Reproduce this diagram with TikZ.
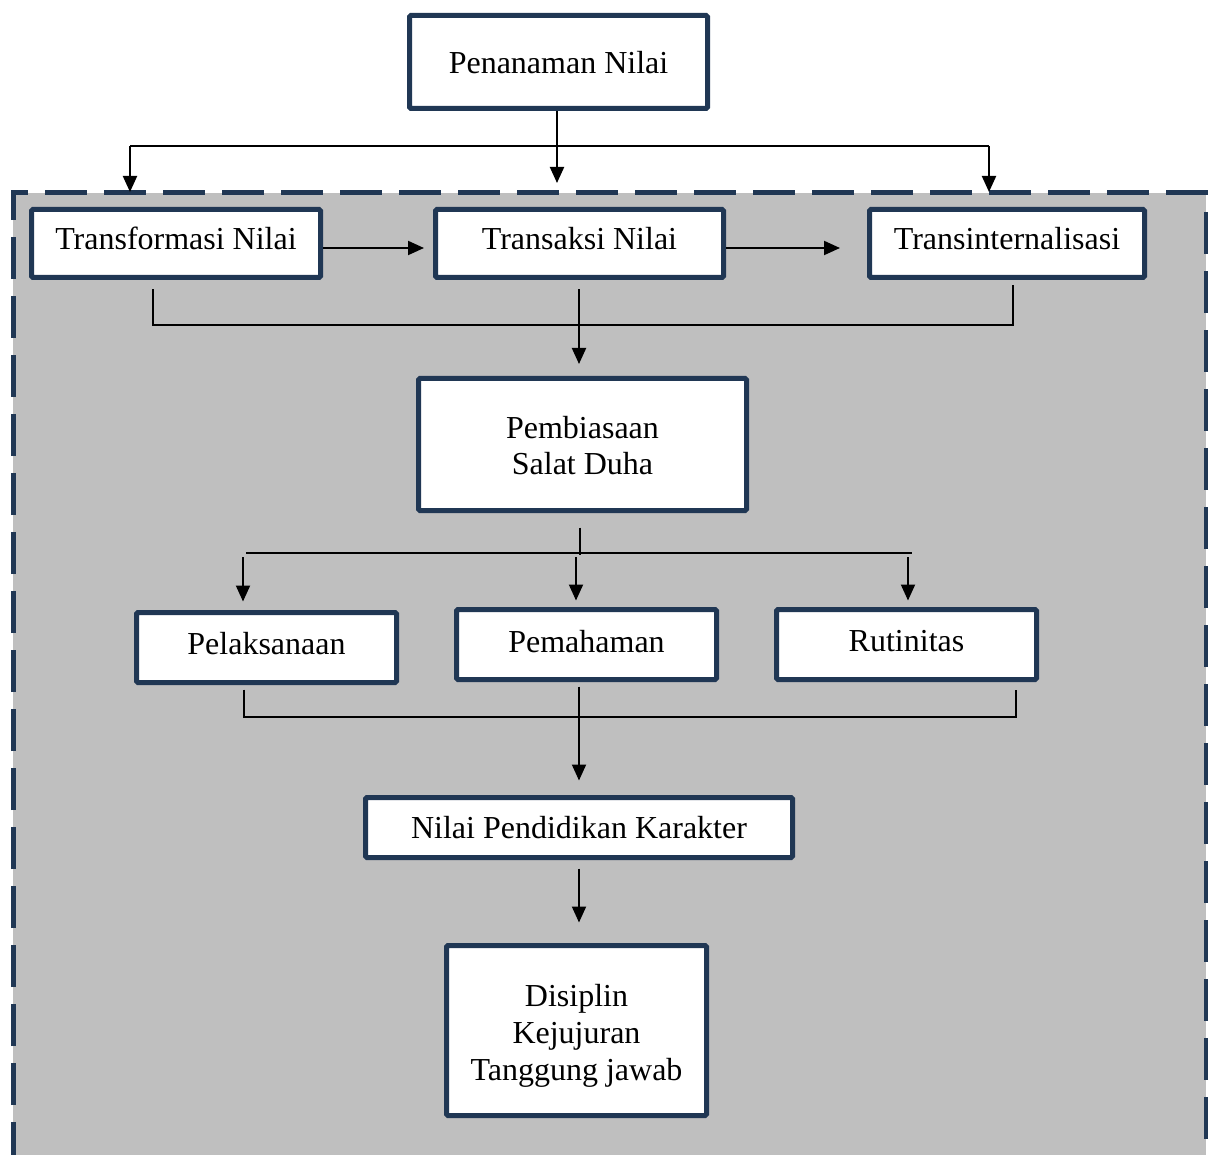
\documentclass[tikz,border=0pt]{standalone}
\usepackage{fontspec}
\setmainfont{Liberation Serif}
\usetikzlibrary{arrows.meta}
\definecolor{navy}{RGB}{32,55,84}
\definecolor{bggray}{RGB}{191,191,191}
\newcommand{\txtshift}[2]{\raisebox{#1}[\height][\depth]{#2}}
\begin{document}
\begin{tikzpicture}[x=1pt,y=-1pt,
  box/.style={draw=navy, line width=5pt, fill=white, rounded corners=1.5pt, inner sep=0pt,
    align=center, font=\fontsize{32}{36.5}\selectfont},
  conn/.style={draw=black, line width=2pt},
  arr/.style={conn, -{Triangle[length=16pt,width=14pt]}},
  frame/.style={draw=navy, line width=5pt, dash pattern=on 42pt off 17pt, dash phase=4pt}
]
\useasboundingbox (0,0) rectangle (1208,1155);
% background panel
\fill[bggray] (13,193) rectangle (1206,1160);
\draw[frame] (13,1160) -- (13,193) -- (1206,193) -- (1206,1160);

% nodes
\node[box, minimum width=298pt, minimum height=93pt] (pen) at (558.5,62) {\txtshift{-1pt}{Penanaman Nilai}};
\node[box, minimum width=289pt, minimum height=68pt] (tf) at (176,243.5) {\txtshift{5pt}{Transformasi Nilai}};
\node[box, minimum width=288pt, minimum height=68pt] (ts) at (579.5,243.5) {\txtshift{5pt}{Transaksi Nilai}};
\node[box, minimum width=275pt, minimum height=68pt] (ti) at (1007,243.5) {\txtshift{5pt}{Transinternalisasi}};
\node[box, minimum width=328pt, minimum height=132pt] (pb) at (582.5,444.5) {\txtshift{-4.5pt}{\begin{tabular}{@{}c@{}}Pembiasaan\\Salat Duha\end{tabular}}};
\node[box, minimum width=260pt, minimum height=70pt] (pl) at (266.5,647.5) {\txtshift{3.5pt}{Pelaksanaan}};
\node[box, minimum width=260pt, minimum height=70pt] (pm) at (586.5,644.5) {\txtshift{3pt}{Pemahaman}};
\node[box, minimum width=260pt, minimum height=70pt] (rt) at (906.5,644.5) {\txtshift{3pt}{Rutinitas}};
\node[box, minimum width=427pt, minimum height=60pt] (nk) at (579,827.5) {Nilai Pendidikan Karakter};
\node[box, minimum width=260pt, minimum height=170pt, font=\fontsize{32}{37}\selectfont] (ds) at (576.5,1030.5) {\txtshift{-6pt}{\begin{tabular}{@{}c@{}}Disiplin\\Kejujuran\\Tanggung jawab\end{tabular}}};

% coordinates
\coordinate (tpL) at (130,146);
\coordinate (tpR) at (989,146);
\coordinate (aL) at (130,192);
\coordinate (aR) at (989,192);
\coordinate (aM) at (557,183);
\coordinate (m1L) at (153,325);
\coordinate (m1R) at (1013,325);
\coordinate (pbj) at (580,555);
\coordinate (h2L) at (246,553);
\coordinate (h2R) at (912,553);
\coordinate (a2L) at (243,557);
\coordinate (a2M) at (576,557);
\coordinate (a2R) at (908,557);
\coordinate (m3L) at (244,717);
\coordinate (m3R) at (1016,717);

% top distribution
\draw[conn] (tpL) -- (tpR);
\draw[arr] (tpL) -- (aL);
\draw[arr] (tpR) -- (aR);
\draw[arr] ([xshift=-1.5pt]pen.south) -- (aM);

% row 1 sequence
\draw[arr, shorten >=9pt] ([yshift=-4.5pt]tf.east) -- ([yshift=-4.5pt]ts.west);
\draw[arr, shorten >=27pt] ([yshift=-4.5pt]ts.east) -- ([yshift=-4.5pt]ti.west);

% merge 1
\draw[conn] ([xshift=-23pt,yshift=-9.5pt]tf.south) -- (m1L) -- (m1R) -- ([xshift=6pt,yshift=-5.5pt]ti.south);
\draw[arr, shorten >=12pt] ([xshift=-0.5pt,yshift=-9.5pt]ts.south) -- ([xshift=-0.5pt]ts.south |- pb.north);

% split 2
\draw[conn] ([xshift=-2.5pt,yshift=-14.5pt]pb.south) -- (pbj);
\draw[conn] (h2L) -- (h2R);
\draw[arr, shorten >=8.5pt] (a2L) -- (a2L |- pl.north);
\draw[arr, shorten >=6.5pt] (a2M) -- (a2M |- pm.north);
\draw[arr, shorten >=6.5pt] (a2R) -- (a2R |- rt.north);

% merge 3
\draw[conn] ([xshift=-22.5pt,yshift=-4.5pt]pl.south) -- (m3L) -- (m3R) -- ([xshift=109.5pt,yshift=-7.5pt]rt.south);
\draw[arr, shorten >=14.5pt] ([xshift=-7.5pt,yshift=-4.5pt]pm.south) -- (nk.north);

% last
\draw[arr, shorten >=20.5pt] ([yshift=-8.5pt]nk.south) -- (nk.south |- ds.north);
\end{tikzpicture}
\end{document}
